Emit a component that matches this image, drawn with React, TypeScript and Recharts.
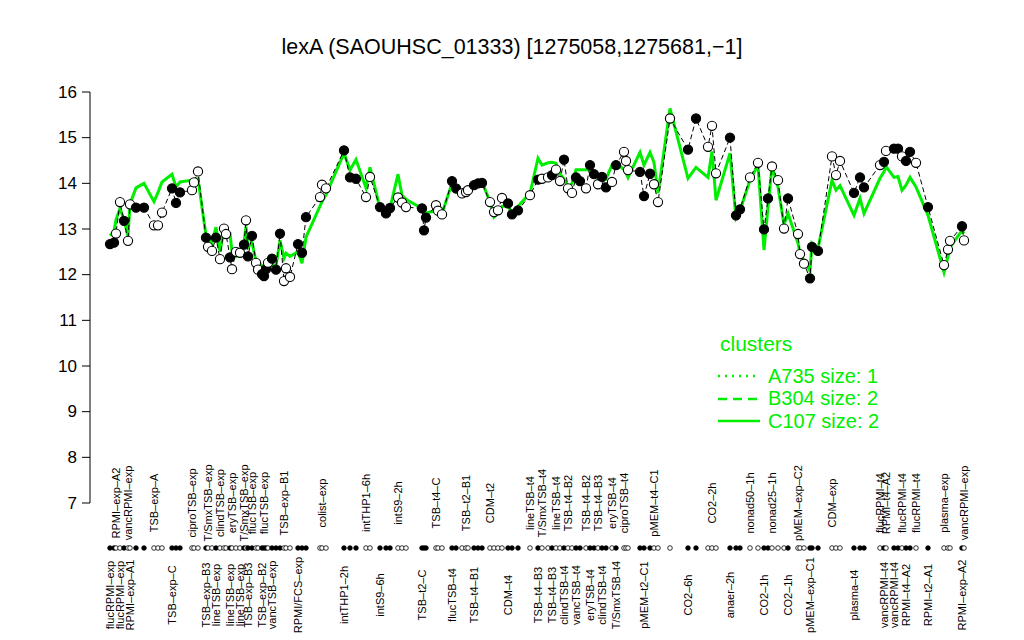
import React from "react";
import { ComposedChart, Line, XAxis, YAxis, Legend } from "recharts";

// sample positions along the x axis (index units)
const samplePos = [
  10, 12, 13, 15, 17, 19, 20, 23, 27, 32, 34, 36, 41, 43, 45, 51, 52, 54, 58, 59,
  61, 63, 65, 67, 68, 70, 71, 73, 75, 77, 78, 79, 81, 83, 84, 86, 87, 88, 89, 91,
  93, 95, 97, 98, 100, 104, 106, 108, 115, 116, 118, 127, 130, 133, 138, 140, 145, 148, 150, 154,
  156, 158, 166, 167, 168, 173, 174, 176, 181, 183, 186, 188, 189, 192, 194, 196, 200, 202, 204, 206,
  209, 211, 214, 220, 224, 226, 229, 231, 233, 235, 237, 239, 241, 243, 245, 248, 250, 252, 254, 256,
  258, 261, 263, 267, 268, 269, 275, 277, 280, 282, 284, 290, 299, 303, 309, 311, 313, 320, 323, 325,
  330, 334, 337, 339, 341, 344, 347, 349, 354, 355, 357, 360, 361, 364, 371, 373, 375, 382, 385, 387,
  395, 397, 398, 402, 404, 406, 408, 410, 413, 419, 427, 429, 430, 436, 437,
];

// lexA expression per sample
const expression = [
  12.67, 12.7, 12.9, 13.59, 13.18, 12.74, 13.54, 13.47, 13.47, 13.08, 13.08, 13.36, 13.89, 13.57, 13.8, 13.85, 14.02, 14.26, 12.81, 12.61,
  12.52, 12.81, 12.34, 13.01, 12.89, 12.38, 12.12, 12.5, 12.48, 12.66, 13.19, 12.4, 12.85, 12.26, 12.11, 12.01, 11.97, 12.12, 12.26, 12.35,
  12.11, 12.9, 11.86, 12.14, 11.95, 12.67, 12.48, 13.26, 13.7, 13.97, 13.89, 14.72, 14.13, 14.1, 13.7, 14.14, 13.48, 13.34, 13.46, 13.69,
  13.58, 13.48, 13.45, 12.97, 13.25, 13.52, 13.4, 13.32, 14.05, 13.89, 13.78, 13.81, 13.85, 13.96, 14.0, 14.01, 13.59, 13.37, 13.41, 13.68,
  13.56, 13.32, 13.41, 13.74, 14.08, 14.1, 14.13, 14.18, 14.3, 14.05, 14.52, 13.89, 13.79, 14.13, 14.05, 13.89, 14.4, 14.2, 13.98, 14.14,
  13.91, 14.03, 14.4, 14.69, 14.49, 14.29, 14.25, 13.72, 14.21, 13.98, 13.59, 15.42, 14.74, 15.42, 14.8, 15.26, 14.22, 15.0, 13.3, 13.43,
  14.13, 14.45, 12.99, 13.67, 14.37, 14.07, 13.01, 13.67, 12.89, 12.45, 12.24, 11.92, 12.61, 12.52, 14.59, 14.18, 14.49, 13.79, 14.13, 13.91,
  14.4, 14.47, 14.71, 14.76, 14.76, 14.59, 14.49, 14.69, 14.45, 13.48, 12.21, 12.55, 12.74, 13.06, 12.75,
];

// cluster C107 profile (green)
const clusterC107 = [
  12.85, 12.95, 13.2, 13.45, 13.2, 12.85, 13.55, 13.9, 14.0, 13.6, 13.8, 14.03, 14.2, 13.92, 14.03, 14.07, 14.08, 14.1, 12.86, 12.8,
  12.7, 13.04, 12.5, 13.0, 12.9, 12.9, 12.5, 12.4, 12.5, 12.7, 13.05, 12.6, 12.7, 12.3, 12.27, 12.2, 12.16, 12.2, 12.2, 12.2,
  12.2, 12.75, 12.36, 12.47, 12.4, 12.5, 12.25, 12.82, 13.5, 13.6, 13.75, 14.66, 14.29, 14.52, 13.9, 14.35, 13.45, 13.41, 13.45, 14.2,
  13.74, 13.65, 13.45, 13.34, 13.35, 13.4, 13.38, 13.34, 14.0, 13.8, 13.78, 13.85, 13.9, 13.95, 14.0, 14.03, 13.6, 13.26, 13.35, 13.5,
  13.5, 13.35, 13.5, 13.78, 14.55, 14.4, 14.45, 14.46, 14.44, 14.2, 14.1, 13.92, 14.0, 14.3, 14.3, 14.3, 14.3, 14.2, 14.2, 14.15,
  14.1, 14.4, 14.45, 14.3, 14.24, 14.13, 14.68, 14.4, 14.68, 14.46, 13.78, 15.64, 14.11, 14.35, 14.13, 14.7, 13.63, 14.66, 13.24, 13.4,
  14.07, 14.4, 12.54, 13.48, 14.37, 13.92, 13.1, 13.34, 12.69, 12.47, 12.3, 12.08, 12.69, 12.58, 14.07, 13.85, 13.95, 13.3, 13.67, 13.34,
  14.11, 14.25, 14.37, 14.13, 14.15, 13.85, 13.96, 14.13, 13.92, 13.3, 12.05, 12.4, 12.6, 12.97, 12.9,
];

// 1 = filled marker, 0 = open marker
const sampleFilled = [
  1, 1, 0, 0, 1, 0, 0, 1, 1, 0, 0, 0, 1, 1, 1, 0, 0, 0, 1, 0,
  0, 1, 0, 0, 0, 1, 0, 0, 0, 1, 0, 1, 1, 0, 0, 1, 1, 1, 0, 1,
  1, 1, 0, 0, 0, 1, 1, 1, 0, 0, 0, 1, 1, 1, 0, 0, 1, 1, 1, 0,
  0, 0, 1, 1, 1, 0, 0, 0, 1, 1, 0, 0, 0, 1, 1, 1, 0, 0, 0, 0,
  1, 1, 1, 0, 1, 0, 0, 1, 0, 0, 1, 0, 0, 1, 1, 0, 1, 1, 0, 1,
  1, 0, 1, 0, 0, 0, 1, 1, 1, 0, 0, 0, 1, 1, 0, 0, 0, 1, 1, 1,
  0, 0, 1, 1, 0, 0, 0, 1, 0, 0, 0, 1, 1, 1, 0, 0, 0, 1, 1, 1,
  0, 1, 0, 1, 1, 0, 1, 1, 0, 1, 0, 0, 0, 1, 0,
];

const topLabels: [number, string][] = [
  [13, "RPMI\u2013exp\u2013A2"], [19, "vancRPMI\u2013exp"], [32, "TSB\u2013exp\u2013A"], [51, "ciproTSB\u2013exp"],
  [59, "T/SmxTSB\u2013exp"], [65, "clindTSB\u2013exp"], [71, "eryTSB\u2013exp"], [77, "T/SmxTSB\u2013exp"],
  [81, "flucTSB\u2013exp"], [87, "flucTSB\u2013exp"], [97, "TSB\u2013exp\u2013B1"], [116, "colist\u2013exp"],
  [138, "intTHP1\u20136h"], [154, "intS9\u20132h"], [173, "TSB\u2013t4\u2013C"], [188, "TSB\u2013t2\u2013B1"],
  [200, "CDM\u2013t2"], [220, "lineTSB\u2013t4"], [226, "T/SmxTSB\u2013t4"], [233, "lineTSB\u2013t4"],
  [239, "TSB\u2013t4\u2013B2"], [248, "TSB\u2013t4\u2013B2"], [254, "TSB\u2013t4\u2013B3"], [261, "eryTSB\u2013t4"],
  [267, "ciproTSB\u2013t4"], [282, "pMEM\u2013t4\u2013C1"], [311, "CO2\u20132h"], [330, "nonad50\u20131h"],
  [341, "nonad25\u20131h"], [354, "pMEM\u2013exp\u2013C2"], [371, "CDM\u2013exp"], [395, "flucRPMI\u2013t4"],
  [398, "RPMI\u2013t4\u2013A2"], [406, "flucRPMI\u2013t4"], [413, "flucRPMI\u2013t4"], [427, "plasma\u2013exp"],
  [437, "vancRPMI\u2013exp"],
];

const bottomLabels: [number, string][] = [
  [10, "flucRPMI\u2013exp"], [15, "flucRPMI\u2013exp"], [20, "RPMI\u2013exp\u2013A1"], [41, "TSB\u2013exp\u2013C"],
  [58, "TSB\u2013exp\u2013B3"], [63, "lineTSB\u2013exp"], [70, "lineTSB\u2013exp"], [75, "lineTSB\u2013exp"],
  [79, "TSB\u2013exp\u2013B3"], [86, "TSB\u2013exp\u2013B2"], [91, "vancTSB\u2013exp"], [104, "RPMI/FCS\u2013exp"],
  [127, "intTHP1\u20132h"], [145, "intS9\u20136h"], [166, "TSB\u2013t2\u2013C"], [181, "flucTSB\u2013t4"],
  [192, "TSB\u2013t4\u2013B1"], [209, "CDM\u2013t4"], [224, "TSB\u2013t4\u2013B3"], [231, "TSB\u2013t4\u2013B3"],
  [237, "clindTSB\u2013t4"], [243, "vancTSB\u2013t4"], [250, "eryTSB\u2013t4"], [256, "clindTSB\u2013t4"],
  [263, "T/SmxTSB\u2013t4"], [277, "pMEM\u2013t2\u2013C1"], [299, "CO2\u20136h"], [320, "anaer\u20132h"],
  [337, "CO2\u20131h"], [349, "CO2\u20131h"], [360, "pMEM\u2013exp\u2013C1"], [382, "plasma\u2013t4"],
  [397, "vancRPMI\u2013t4"], [402, "vancRPMI\u2013t4"], [408, "RPMI\u2013t4\u2013A2"], [419, "RPMI\u2013t2\u2013A1"],
  [436, "RPMI\u2013exp\u2013A2"],
];

const yTicks = [7, 8, 9, 10, 11, 12, 13, 14, 15, 16];

const clusterNames = ["A735 size: 1", "B304 size: 2", "C107 size: 2"];
const clusterDash = ["2 5", "9 6", ""];

const GREEN = "#00ee00";
const FONT = "'Liberation Sans', Arial, Helvetica, sans-serif";

const data = samplePos.map((x, i) => ({
  x,
  expr: expression[i],
  c107: clusterC107[i],
  filled: sampleFilled[i],
}));

const topMap = new Map(topLabels);
const bottomMap = new Map(bottomLabels);

const SampleDot = (props: any) => {
  const { cx, cy, payload } = props;
  if (cx == null || cy == null) return null;
  return (
    <circle
      key={`d-${payload.x}`}
      cx={cx}
      cy={cy}
      r={4.6}
      fill={payload.filled ? "#000" : "#fff"}
      stroke="#000"
      strokeWidth={1.1}
    />
  );
};

const SampleTick = (props: any) => {
  const { x, y, payload } = props;
  const i = samplePos.indexOf(payload.value);
  const top = topMap.get(payload.value);
  const bottom = bottomMap.get(payload.value);
  return (
    <g>
      <circle cx={x} cy={y + 45} r={2.3} fill={sampleFilled[i] ? "#000" : "#fff"} stroke="#000" strokeWidth={0.8} />
      {top && (
        <text transform={`translate(${x},${y}) rotate(-90)`} textAnchor="middle" dominantBaseline="central" fontSize={11} fontFamily={FONT} fill="#000">
          {top}
        </text>
      )}
      {bottom && (
        <text transform={`translate(${x},${y + 92}) rotate(-90)`} textAnchor="middle" dominantBaseline="central" fontSize={11} fontFamily={FONT} fill="#000">
          {bottom}
        </text>
      )}
    </g>
  );
};

const YTick = (props: any) => {
  const { x, y, payload } = props;
  return (
    <text x={x} y={y} textAnchor="end" dominantBaseline="central" fontSize={17} fontFamily={FONT} fill="#000">
      {payload.value}
    </text>
  );
};

const ClusterLegend = () => (
  <div style={{ fontFamily: FONT, color: GREEN }}>
    <div style={{ fontSize: 21, lineHeight: "24px", marginLeft: 6, marginBottom: 9 }}>clusters</div>
    {clusterNames.map((name, i) => (
      <div key={name} style={{ display: "flex", alignItems: "center", height: 22.5 }}>
        <svg width={54} height={10}>
          <line x1={4} y1={5} x2={46} y2={5} stroke={GREEN} strokeWidth={2.5} strokeDasharray={clusterDash[i]} />
        </svg>
        <span style={{ fontSize: 20 }}>{name}</span>
      </div>
    ))}
  </div>
);

export default function App() {
  return (
    <div style={{ position: "absolute", left: 0, top: 0, width: 1024, height: 640, background: "#fff" }}>
      <div
        style={{
          position: "absolute",
          left: 0,
          width: 1024,
          top: 35,
          textAlign: "center",
          fontFamily: FONT,
          fontSize: 21.5,
          color: "#000",
        }}
      >
        lexA (SAOUHSC_01333) [1275058,1275681,{"\u2212"}1]
      </div>
      <ComposedChart width={1024} height={640} data={data} margin={{ top: 92, right: 40, bottom: 0, left: 0 }}>
        <XAxis
          type="number"
          dataKey="x"
          domain={[0, 447]}
          ticks={samplePos}
          interval={0}
          tick={<SampleTick />}
          tickSize={0}
          tickMargin={0}
          axisLine={false}
          tickLine={false}
          height={137}
        />
        <YAxis
          type="number"
          domain={[7, 16]}
          ticks={yTicks}
          width={90}
          tick={<YTick />}
          tickSize={8}
          tickMargin={5}
          axisLine={{ stroke: "#000" }}
          tickLine={{ stroke: "#000" }}
        />
        <Legend
          verticalAlign="middle"
          align="center"
          layout="horizontal"
          content={<ClusterLegend />}
          wrapperStyle={{ position: "absolute", left: 714, top: 332, width: 280 }}
        />
        <Line
          type="linear"
          dataKey="c107"
          stroke={GREEN}
          strokeWidth={3}
          dot={false}
          activeDot={false}
          isAnimationActive={false}
        />
        <Line
          type="linear"
          dataKey="expr"
          stroke="#000"
          strokeWidth={1}
          strokeDasharray="5 3"
          dot={<SampleDot />}
          activeDot={false}
          isAnimationActive={false}
        />
      </ComposedChart>
    </div>
  );
}
